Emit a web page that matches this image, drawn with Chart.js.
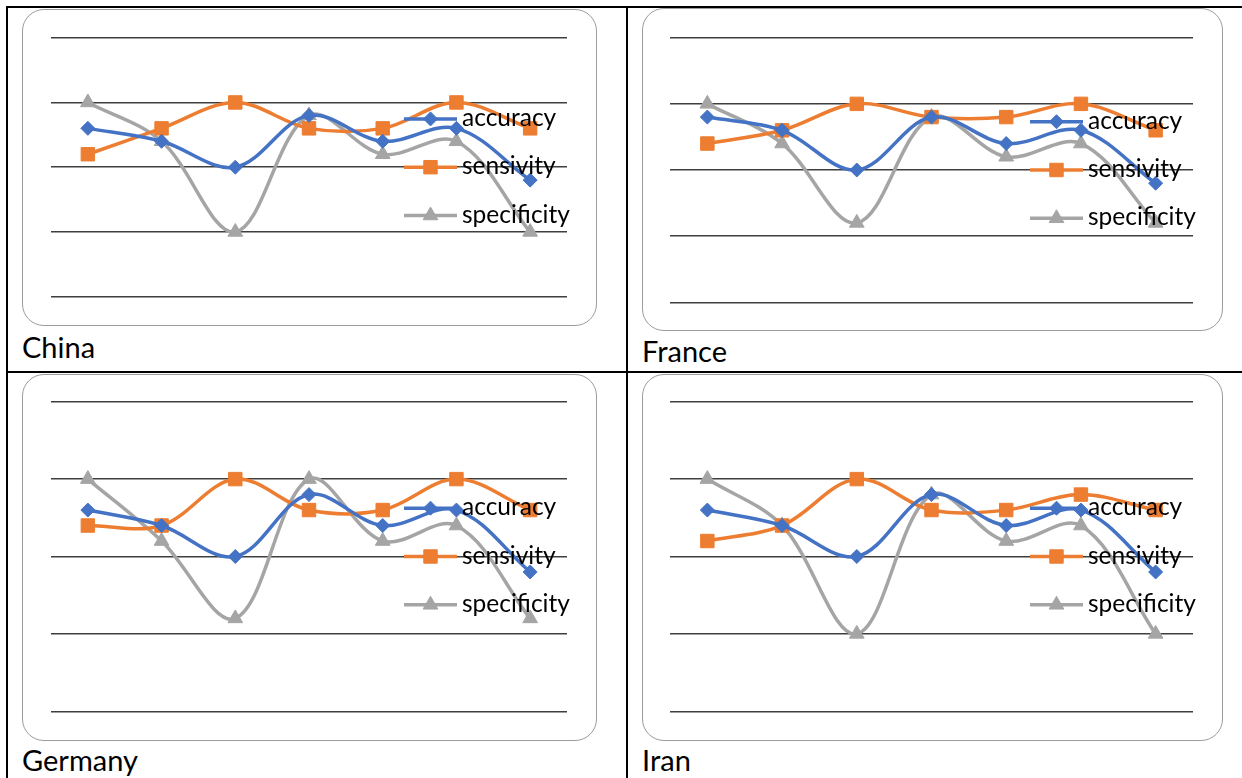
<!DOCTYPE html>
<html>
<head>
<meta charset="utf-8">
<script src="https://cdn.jsdelivr.net/npm/chart.js@4/dist/chart.umd.min.js"></script>
<style>
  html, body { margin: 0; padding: 0; background: #fff; }
  body { width: 1242px; height: 778px; position: relative; overflow: hidden; font-family: Lato, "Liberation Sans", sans-serif; }
  .rule { position: absolute; background: #000; }
  .frame { position: absolute; box-sizing: border-box; border: 1px solid #9c9c9c; border-radius: 22px; background: #fff; }
  canvas { position: absolute; }
  .label { position: absolute; font-size: 29px; line-height: 29px; color: #000; white-space: nowrap; }
</style>
</head>
<body>
<script>
// Test points (categories are not labelled on the axis)
const categories = ['1', '2', '3', '4', '5', '6', '7'];
const seriesNames = ['accuracy', 'sensivity', 'specificity'];

const chinaAccuracy    = [0.86, 0.84, 0.80, 0.88, 0.84, 0.86, 0.78];
const chinaSensivity   = [0.82, 0.86, 0.90, 0.86, 0.86, 0.90, 0.86];
const chinaSpecificity = [0.90, 0.84, 0.70, 0.88, 0.82, 0.84, 0.70];

const franceAccuracy    = [0.88, 0.86, 0.80, 0.88, 0.84, 0.86, 0.78];
const franceSensivity   = [0.84, 0.86, 0.90, 0.88, 0.88, 0.90, 0.86];
const franceSpecificity = [0.90, 0.84, 0.72, 0.88, 0.82, 0.84, 0.72];

const germanyAccuracy    = [0.86, 0.84, 0.80, 0.88, 0.84, 0.86, 0.78];
const germanySensivity   = [0.84, 0.84, 0.90, 0.86, 0.86, 0.90, 0.86];
const germanySpecificity = [0.90, 0.82, 0.72, 0.90, 0.82, 0.84, 0.72];

const iranAccuracy    = [0.86, 0.84, 0.80, 0.88, 0.84, 0.86, 0.78];
const iranSensivity   = [0.82, 0.84, 0.90, 0.86, 0.86, 0.88, 0.86];
const iranSpecificity = [0.90, 0.84, 0.70, 0.88, 0.82, 0.84, 0.70];

// Value axis
const axisMin = 0.6;
const axisMax = 1.0;
const axisStep = 0.1;

const countries = ['China', 'France', 'Germany', 'Iran'];

// Series styles
const seriesStyles = [
  { color: '#4472C4', pointStyle: 'rectRot',  radius: 7 },
  { color: '#ED7D31', pointStyle: 'rect',     radius: 9.5 },
  { color: '#A5A5A5', pointStyle: 'triangle', radius: 8.5 }
];

// Cell layout: chart frame, plot padding inside the frame, caption baseline
const panels = [
  { values: [chinaAccuracy, chinaSensivity, chinaSpecificity],
    frame: { x: 22, y: 9, w: 575, h: 317 }, pad: { left: 29, right: 30, top: 28.7, bottom: 29.3 },
    caption: { x: 22, base: 358 } },
  { values: [franceAccuracy, franceSensivity, franceSpecificity],
    frame: { x: 642, y: 8, w: 581, h: 323 }, pad: { left: 28, right: 30, top: 29.7, bottom: 28.7 },
    caption: { x: 642, base: 362 } },
  { values: [germanyAccuracy, germanySensivity, germanySpecificity],
    frame: { x: 22, y: 374, w: 575, h: 367 }, pad: { left: 29, right: 30, top: 27.7, bottom: 29.7 },
    caption: { x: 22, base: 771 } },
  { values: [iranAccuracy, iranSensivity, iranSpecificity],
    frame: { x: 642, y: 374, w: 581, h: 367 }, pad: { left: 28, right: 30, top: 27.7, bottom: 29.7 },
    caption: { x: 642, base: 771 } }
];

// Table rules
function addRule(left, top, width, height) {
  const d = document.createElement('div');
  d.className = 'rule';
  Object.assign(d.style, { left: left + 'px', top: top + 'px', width: width + 'px', height: height + 'px' });
  document.body.appendChild(d);
}
addRule(6, 6, 1236, 2);     // top
addRule(6, 6, 2, 772);      // left
addRule(626, 6, 2, 772);    // middle vertical
addRule(6, 371, 1236, 2);   // middle horizontal

// Legend drawn inside the plot, right-aligned: line sample with marker, then the name
const insideLegend = {
  id: 'insideLegend',
  afterDatasetsDraw(chart, args, opts) {
    const { ctx, chartArea } = chart;
    const textX = chartArea.right - opts.textInset;
    const midY = (chartArea.top + chartArea.bottom) / 2;
    ctx.save();
    chart.data.datasets.forEach((ds, i) => {
      const y = midY + (i - 1) * opts.rowGap;
      const x1 = textX - opts.gap;
      const x0 = x1 - opts.sample;
      ctx.strokeStyle = ds.borderColor;
      ctx.lineWidth = ds.borderWidth;
      ctx.lineCap = 'butt';
      ctx.beginPath();
      ctx.moveTo(x0, y);
      ctx.lineTo(x1, y);
      ctx.stroke();
      ctx.fillStyle = ds.pointBackgroundColor;
      ctx.strokeStyle = ds.pointBorderColor;
      ctx.lineWidth = ds.pointBorderWidth;
      Chart.helpers.drawPoint(ctx, {
        pointStyle: ds.pointStyle, radius: ds.pointRadius,
        borderWidth: ds.pointBorderWidth, rotation: 0
      }, (x0 + x1) / 2, y);
      ctx.fillStyle = opts.color;
      ctx.font = opts.font;
      ctx.textBaseline = 'alphabetic';
      ctx.textAlign = 'left';
      ctx.fillText(ds.label, textX, y + opts.baselineShift);
    });
    ctx.restore();
  }
};

panels.forEach((p, k) => {
  const f = p.frame;
  const frame = document.createElement('div');
  frame.className = 'frame';
  Object.assign(frame.style, { left: f.x + 'px', top: f.y + 'px', width: f.w + 'px', height: f.h + 'px' });
  document.body.appendChild(frame);

  const canvas = document.createElement('canvas');
  canvas.width = f.w;
  canvas.height = f.h;
  Object.assign(canvas.style, { left: f.x + 'px', top: f.y + 'px', width: f.w + 'px', height: f.h + 'px' });
  document.body.appendChild(canvas);

  const cap = document.createElement('div');
  cap.className = 'label';
  cap.textContent = countries[k];
  Object.assign(cap.style, { left: p.caption.x + 'px', top: (p.caption.base - 25.7) + 'px' });
  document.body.appendChild(cap);

  const datasets = p.values.map((vals, i) => {
    const s = seriesStyles[i];
    return {
      label: seriesNames[i],
      data: vals,
      borderColor: s.color,
      backgroundColor: s.color,
      borderWidth: 3.5,
      pointStyle: s.pointStyle,
      pointRadius: s.radius,
      pointBackgroundColor: s.color,
      pointBorderColor: s.color,
      pointBorderWidth: 1,
      tension: 0.35,
      fill: false
    };
  });

  new Chart(canvas, {
    type: 'line',
    data: { labels: categories, datasets },
    options: {
      responsive: false,
      animation: false,
      events: [],
      layout: { padding: p.pad },
      plugins: {
        legend: { display: false },
        tooltip: { enabled: false },
        insideLegend: {
          textInset: 105, gap: 5, sample: 53, rowGap: 48.3,
          baselineShift: 7, color: '#000',
          font: '24.5px Lato, "Liberation Sans", sans-serif'
        }
      },
      scales: {
        x: { display: false, offset: true },
        y: {
          min: axisMin, max: axisMax,
          ticks: { display: false, stepSize: axisStep },
          grid: { color: '#3f3f3f', lineWidth: 1.5, drawTicks: false },
          border: { display: false }
        }
      }
    },
    plugins: [insideLegend]
  });
});
</script>
</body>
</html>
